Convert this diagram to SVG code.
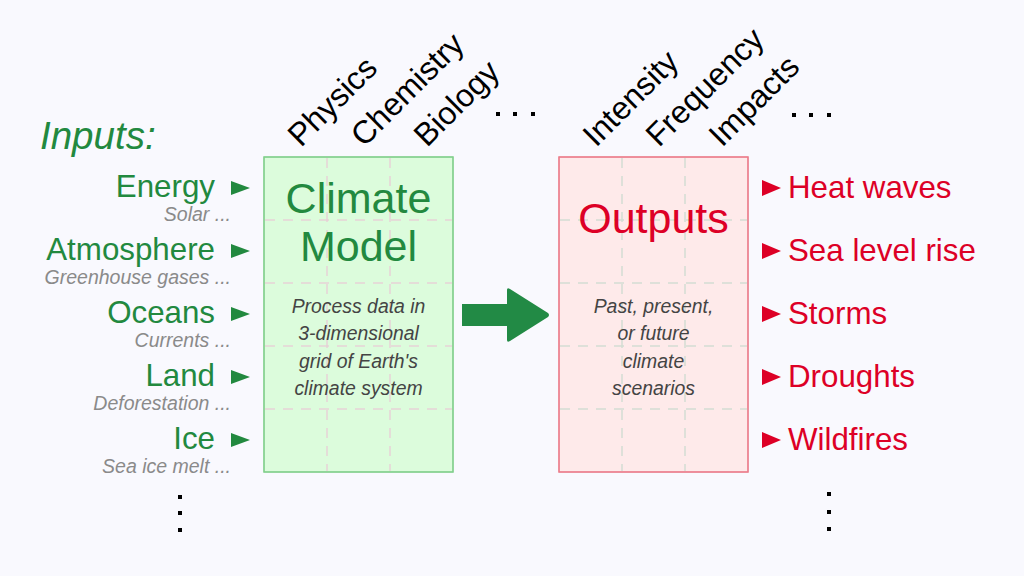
<svg xmlns="http://www.w3.org/2000/svg" width="1024" height="576" viewBox="0 0 1024 576">
<style>
.lbl{font-family:"Liberation Sans",Arial,sans-serif;font-size:31.3px}
.g{fill:#22893f}
.r{fill:#dd0026}
.sub{font-family:"Liberation Sans",Arial,sans-serif;font-size:19.5px;font-style:italic;fill:#8a8a8a;text-anchor:end}
.desc{font-family:"Liberation Sans",Arial,sans-serif;font-size:19.4px;font-style:italic;fill:#444;text-anchor:middle}
.title{font-family:"Liberation Sans",Arial,sans-serif;font-size:43px;text-anchor:middle}
.rot{font-family:"Liberation Sans",Arial,sans-serif;font-size:32px;fill:#000}
.gridg{stroke:#e6d2d6;stroke-width:1.5;stroke-dasharray:10 8;fill:none}
.gridr{stroke:#d3ddd3;stroke-width:1.5;stroke-dasharray:10 8;fill:none}
.dot{fill:#000}
</style>
<rect width="1024" height="576" fill="#f9f9fe"/>

<text x="40" y="149" class="lbl g" style="font-size:38.5px;font-style:italic">Inputs:</text>

<g id="inputs">
  <g id="in-energy"><text x="215" y="197" class="lbl g" text-anchor="end">Energy</text><polygon points="231,181 250,188 231,195" class="g"/><text x="231" y="221" class="sub">Solar ...</text></g>
  <g id="in-atmosphere"><text x="215" y="260" class="lbl g" text-anchor="end">Atmosphere</text><polygon points="231,244 250,251 231,258" class="g"/><text x="231" y="284" class="sub">Greenhouse gases ...</text></g>
  <g id="in-oceans"><text x="215" y="323" class="lbl g" text-anchor="end">Oceans</text><polygon points="231,307 250,314 231,321" class="g"/><text x="231" y="347" class="sub">Currents ...</text></g>
  <g id="in-land"><text x="215" y="386" class="lbl g" text-anchor="end">Land</text><polygon points="231,370 250,377 231,384" class="g"/><text x="231" y="410" class="sub">Deforestation ...</text></g>
  <g id="in-ice"><text x="215" y="449" class="lbl g" text-anchor="end">Ice</text><polygon points="231,433 250,440 231,447" class="g"/><text x="231" y="473" class="sub">Sea ice melt ...</text></g>
  <g id="in-more"><rect x="178" y="495" width="4" height="4" class="dot"/><rect x="178" y="511" width="4" height="4" class="dot"/><rect x="178" y="528" width="4" height="4" class="dot"/></g>
</g>

<g id="model">
  <rect x="264" y="157" width="189" height="315" fill="#dcfcdc" stroke="#82cf8c" stroke-width="1.2"/>
  <path class="gridg" d="M327,158V471M390,158V471M265,220H452M265,283H452M265,346H452M265,409H452"/>
  <rect x="264" y="157" width="189" height="315" fill="none" stroke="#82cf8c" stroke-width="1.2"/>
  <text x="358.5" y="213" class="title g">Climate</text>
  <text x="358.5" y="261" class="title g">Model</text>
  <text x="358.5" y="313" class="desc">Process data in</text>
  <text x="358.5" y="340" class="desc">3-dimensional</text>
  <text x="358.5" y="368" class="desc">grid of Earth's</text>
  <text x="358.5" y="395" class="desc">climate system</text>
</g>

<g id="model-labels">
  <text class="rot" transform="translate(301,148) rotate(-45)">Physics</text>
  <text class="rot" transform="translate(364,148) rotate(-45)">Chemistry</text>
  <text class="rot" transform="translate(427,148) rotate(-45)">Biology</text>
  <rect x="496" y="112" width="4" height="4" class="dot"/><rect x="513" y="112" width="4" height="4" class="dot"/><rect x="531" y="112" width="4" height="4" class="dot"/>
</g>

<g id="outputs">
  <rect x="559" y="157" width="189" height="315" fill="#feeaea" stroke="#ec7c8a" stroke-width="1.2"/>
  <path class="gridr" d="M622,158V471M685,158V471M560,220H747M560,283H747M560,346H747M560,409H747"/>
  <rect x="559" y="157" width="189" height="315" fill="none" stroke="#ec7c8a" stroke-width="1.2"/>
  <text x="653.5" y="233" class="title r">Outputs</text>
  <text x="653.5" y="313" class="desc">Past, present,</text>
  <text x="653.5" y="340" class="desc">or future</text>
  <text x="653.5" y="368" class="desc">climate</text>
  <text x="653.5" y="395" class="desc">scenarios</text>
</g>

<g id="output-labels">
  <text class="rot" transform="translate(596,148) rotate(-45)">Intensity</text>
  <text class="rot" transform="translate(659,148) rotate(-45)">Frequency</text>
  <text class="rot" transform="translate(722,148) rotate(-45)">Impacts</text>
  <rect x="792" y="113" width="4" height="4" class="dot"/><rect x="809" y="113" width="4" height="4" class="dot"/><rect x="827" y="113" width="4" height="4" class="dot"/>
</g>

<g id="results">
  <g id="out-heat"><polygon points="762,180 781,188 762,196" class="r"/><text x="788" y="198" class="lbl r">Heat waves</text></g>
  <g id="out-sea"><polygon points="762,243 781,251 762,259" class="r"/><text x="788" y="261" class="lbl r">Sea level rise</text></g>
  <g id="out-storms"><polygon points="762,306 781,314 762,322" class="r"/><text x="788" y="324" class="lbl r">Storms</text></g>
  <g id="out-droughts"><polygon points="762,369 781,377 762,385" class="r"/><text x="788" y="387" class="lbl r">Droughts</text></g>
  <g id="out-wildfires"><polygon points="762,432 781,440 762,448" class="r"/><text x="788" y="450" class="lbl r">Wildfires</text></g>
  <g id="out-more"><rect x="827" y="492" width="4" height="4" class="dot"/><rect x="827" y="510" width="4" height="4" class="dot"/><rect x="827" y="527" width="4" height="4" class="dot"/></g>
</g>

<g id="connectors">
  <path d="M462,304H507V290Q507,287 510,289L548,313Q550,315 548,317L510,341Q507,343 507,340V326H462Z" fill="#228a45"/>
</g>
</svg>
